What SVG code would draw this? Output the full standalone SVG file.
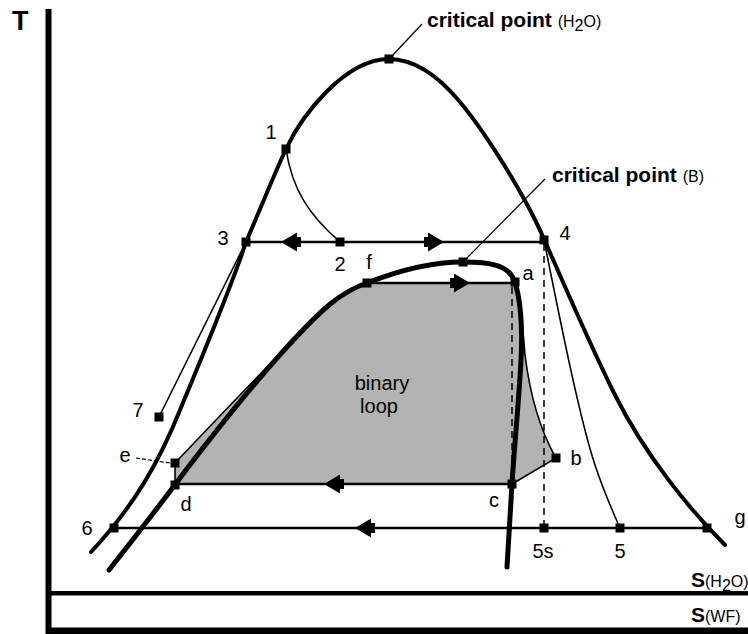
<svg xmlns="http://www.w3.org/2000/svg" xmlns:xlink="http://www.w3.org/1999/xlink" width="748" height="634" viewBox="0 0 748 634">
<style>
.lbl{font-family:"Liberation Sans",Arial,sans-serif;font-size:20px;fill:#000}
.cp{font-family:"Liberation Sans",Arial,sans-serif;font-size:21px;font-weight:bold;fill:#000}
.cps{font-family:"Liberation Sans",Arial,sans-serif;font-size:16px;font-weight:normal}
.thick{fill:none;stroke:#000;stroke-width:4;stroke-linejoin:round;stroke-linecap:round}
.thickB{fill:none;stroke:#000;stroke-width:5;stroke-linejoin:round;stroke-linecap:round}
.thin{fill:none;stroke:#000;stroke-width:1.6}
.hl{fill:none;stroke:#000;stroke-width:2.5}
.dash{fill:none;stroke:#000;stroke-width:1.5;stroke-dasharray:7 5}
.lead{fill:none;stroke:#000;stroke-width:1.2}
.arr{fill:#000}
</style>
<defs>
<path id="arrowL" d="M0,0 L16,-9.5 L16,-5 L20,-5 L20,5 L16,5 L16,9.5 Z"/>
<rect id="sq" x="-4.5" y="-4.5" width="9" height="9"/>
</defs>
<rect width="748" height="634" fill="#fff"/>

<!-- binary loop fill -->
<path id="binary-loop-fill" fill="#b3b3b3" d="M175,485 L175,463 C212,424 258,376 302,331 C320,312 340,292 367,283 L515,283 C520,300 523,330 525,355 C530,395 540,430 556,458 L512,484 Z"/>

<!-- axes -->
<g id="axes">
<rect x="45.5" y="9" width="6" height="625" fill="#000"/>
<rect x="46" y="591" width="702" height="4.5" fill="#000"/>
<rect x="46" y="627.5" width="702" height="6.5" fill="#000"/>
<text x="12" y="30" font-family="Liberation Sans, Arial, sans-serif" font-size="27" font-weight="bold">T</text>
<text x="691" y="587" class="cp">S<tspan class="cps">(H</tspan><tspan class="cps" font-size="12" dy="4">2</tspan><tspan class="cps" dy="-4">O)</tspan></text>
<text x="691" y="622" class="cp">S<tspan class="cps">(WF)</tspan></text>
</g>

<g id="connectors">
<!-- H2O saturation dome -->
<path class="thick" d="M91,552 C135,505 160,460 180,410 C205,350 232,285 246,242 C262,205 276,170 286,149 C302,115 345,59 389,59 C415,59 440,78 460,102 C485,132 525,195 544,239 C560,275 590,345 615,395 C645,455 690,510 725,545"/>
<!-- working fluid dome -->
<path class="thickB" d="M109,570 C135,537 160,505 180,478 C215,432 260,375 300,333 C320,312 340,292 367,283 C400,270 430,262 463,262 C490,262 508,265 514,280 C520,295 523,325 521,360 C519,400 514,450 512,484 L507,567"/>
<!-- process lines -->
<path class="thin" d="M286,149 C292,190 310,216 340,242"/>
<path class="thin" d="M159,417 L246,242"/>
<path class="thin" d="M544,240 C560,320 580,420 595,465 C605,495 613,512 620,528"/>
<path class="thin" d="M516,285 C520,300 523,330 525,355 C530,395 540,430 556,458"/>
<path class="thin" d="M556,458 L512,484"/>
<path class="thin" d="M175,463 C212,424 258,376 302,331"/>
<path class="thin" d="M175,463 L175,485"/>
<path class="hl" d="M246,242 L544,242"/>
<path class="hl" d="M367,283 L515,283"/>
<path class="hl" d="M175,484 L512,484"/>
<path class="hl" d="M114,528 L707,528" stroke-width="2"/>
<path class="dash" d="M544,244 L544,528"/>
<path class="dash" d="M512,287 L512,484"/>
<!-- leaders -->
<path class="lead" d="M392,56 L422,24"/>
<path class="lead" d="M465,260 L545,179"/>
<path class="lead" d="M136,458 L170,463" stroke-dasharray="4 2"/>
<!-- arrows -->
<use xlink:href="#arrowL" class="arr" transform="translate(281,242)"/>
<use xlink:href="#arrowL" class="arr" transform="translate(444,242) scale(-1,1)"/>
<use xlink:href="#arrowL" class="arr" transform="translate(470,283) scale(-1,1)"/>
<use xlink:href="#arrowL" class="arr" transform="translate(324,484)"/>
<use xlink:href="#arrowL" class="arr" transform="translate(355,528)"/>
</g>

<g id="node-critH2O"><use xlink:href="#sq" x="389" y="59"/><text x="427" y="27" class="cp">critical point <tspan class="cps">(H</tspan><tspan class="cps" font-size="12" dy="4">2</tspan><tspan class="cps" dy="-4">O)</tspan></text></g>
<g id="node-critB"><use xlink:href="#sq" x="463" y="262"/><text x="552" y="182" class="cp">critical point <tspan class="cps">(B)</tspan></text></g>
<g id="node-1"><use xlink:href="#sq" x="286" y="149"/><text x="271" y="139" class="lbl" text-anchor="middle">1</text></g>
<g id="node-2"><use xlink:href="#sq" x="340" y="242"/><text x="340" y="271" class="lbl" text-anchor="middle">2</text></g>
<g id="node-3"><use xlink:href="#sq" x="246" y="242"/><text x="223" y="245" class="lbl" text-anchor="middle">3</text></g>
<g id="node-4"><use xlink:href="#sq" x="544" y="240"/><text x="565" y="240" class="lbl" text-anchor="middle">4</text></g>
<g id="node-f"><use xlink:href="#sq" x="367" y="283"/><text x="369" y="269" class="lbl" text-anchor="middle">f</text></g>
<g id="node-a"><use xlink:href="#sq" x="515" y="282"/><text x="528" y="280" class="lbl" text-anchor="middle">a</text></g>
<g id="node-7"><use xlink:href="#sq" x="159" y="417"/><text x="138" y="417" class="lbl" text-anchor="middle">7</text></g>
<g id="node-e"><use xlink:href="#sq" x="175" y="463"/><text x="125" y="462" class="lbl" text-anchor="middle">e</text></g>
<g id="node-d"><use xlink:href="#sq" x="175" y="485"/><text x="186" y="511" class="lbl" text-anchor="middle">d</text></g>
<g id="node-c"><use xlink:href="#sq" x="512" y="484"/><text x="494" y="507" class="lbl" text-anchor="middle">c</text></g>
<g id="node-b"><use xlink:href="#sq" x="556" y="458"/><text x="576" y="465" class="lbl" text-anchor="middle">b</text></g>
<g id="node-6"><use xlink:href="#sq" x="114" y="528"/><text x="87" y="535" class="lbl" text-anchor="middle">6</text></g>
<g id="node-5s"><use xlink:href="#sq" x="544" y="528"/><text x="543" y="558" class="lbl" text-anchor="middle">5s</text></g>
<g id="node-5"><use xlink:href="#sq" x="620" y="528"/><text x="620" y="558" class="lbl" text-anchor="middle">5</text></g>
<g id="node-g"><use xlink:href="#sq" x="707" y="528"/><text x="740" y="524" class="lbl" text-anchor="middle">g</text></g>
<g id="node-binary-loop"><text x="382" y="390" class="lbl" font-size="25" text-anchor="middle">binary</text><text x="379" y="413" class="lbl" font-size="25" text-anchor="middle">loop</text></g>
</svg>
